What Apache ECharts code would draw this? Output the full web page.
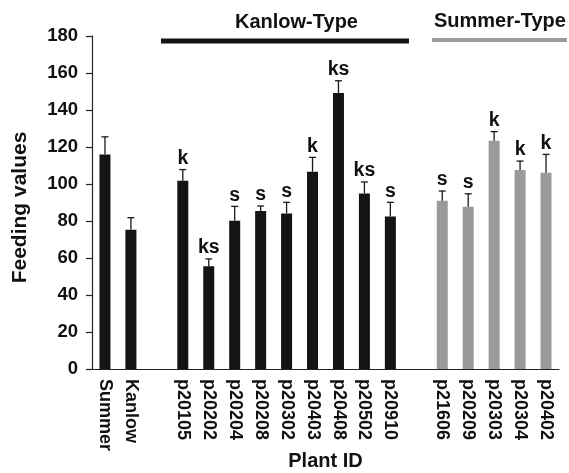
<!DOCTYPE html>
<html>
<head>
<meta charset="utf-8">
<script src="https://cdn.jsdelivr.net/npm/echarts@6/dist/echarts.min.js"></script>
<style>html,body{margin:0;padding:0;background:#fff}#c{width:569px;height:473px}</style>
</head>
<body>
<div id="c"></div>
<script>
// Categories ('' = empty gap slot)
var categories = ['Summer','Kanlow','','p20105','p20202','p20204','p20208','p20302','p20403','p20408','p20502','p20910','','p21606','p20209','p20303','p20304','p20402'];
// Mean feeding values
var values = [116, 75.3, null, 101.8, 55.5, 80.2, 85.4, 84.1, 106.6, 149.2, 94.9, 82.5, null, 91, 87.7, 123.4, 107.6, 106.1];
// Error (upper whisker length)
var errors = [9.5, 6.5, null, 6, 4, 7.7, 2.7, 6, 7.8, 6.6, 6.2, 7.6, null, 5.2, 7, 4.9, 4.8, 9.9];
// Significance letters
var letters = ['', '', '', 'k', 'ks', 's', 's', 's', 'k', 'ks', 'ks', 's', '', 's', 's', 'k', 'k', 'k'];
// Group: 0 = reference, 1 = Kanlow-type, 2 = Summer-type
var groups = [0, 0, -1, 1, 1, 1, 1, 1, 1, 1, 1, 1, -1, 2, 2, 2, 2, 2];
var yTicks = [0, 20, 40, 60, 80, 100, 120, 140, 160, 180];

var BLACK = '#141414', GRAY = '#9a9a9a';
var FONT = '"Liberation Sans", Arial, sans-serif';

var barData = values.map(function (v, i) {
  if (v == null) return '-';
  return { value: v, itemStyle: { color: groups[i] === 2 ? GRAY : BLACK } };
});
var errData = values.map(function (v, i) {
  return v == null ? [i, '-', '-'] : [i, v, v + errors[i]];
});

var chart = echarts.init(document.getElementById('c'), null, { renderer: 'canvas' });
chart.setOption({
  animation: false,
  backgroundColor: '#fff',
  grid: { left: 92, right: 10, top: 36, bottom: 104, containLabel: false, outerBoundsMode: 'none' },
  xAxis: {
    type: 'category',
    data: categories,
    axisLine: { show: true, lineStyle: { color: '#222', width: 1.2 } },
    axisTick: { show: false },
    axisLabel: { rotate: -90, margin: 10, color: '#111', fontWeight: 'bold', fontSize: 18, fontFamily: FONT, interval: 0 },
    name: 'Plant ID',
    nameLocation: 'middle',
    nameGap: 82,
    nameMoveOverlap: false,
    nameTextStyle: { color: '#111', fontWeight: 'bold', fontSize: 20, fontFamily: FONT }
  },
  yAxis: {
    type: 'value',
    min: 0, max: 180, interval: 20,
    axisLine: { show: true, lineStyle: { color: '#222', width: 1.2 } },
    axisTick: { show: true, length: 6, lineStyle: { color: '#222', width: 1.2 } },
    splitLine: { show: false },
    axisLabel: { margin: 14, color: '#111', fontWeight: 'bold', fontSize: 18.5, fontFamily: FONT,
      formatter: function (v) { return yTicks.indexOf(v) >= 0 ? String(v) : ''; } },
    name: 'Feeding values',
    nameLocation: 'middle',
    nameGap: 61,
    nameMoveOverlap: false,
    nameTextStyle: { color: '#111', fontWeight: 'bold', fontSize: 21, fontFamily: FONT, padding: [0, 10, 0, 0] }
  },
  series: [
    {
      type: 'bar',
      data: barData,
      barWidth: 11,
      z: 2
    },
    {
      type: 'custom',
      data: errData,
      z: 3,
      renderItem: function (params, api) {
        var i = api.value(0);
        if (values[i] == null) return null;
        var base = api.coord([i, api.value(1)]);
        var top = api.coord([i, api.value(2)]);
        var x = base[0];
        var style = { stroke: '#1a1a1a', lineWidth: 1.3 };
        var children = [
          { type: 'line', shape: { x1: x, y1: base[1], x2: x, y2: top[1] }, style: style },
          { type: 'line', shape: { x1: x - 3.5, y1: top[1], x2: x + 3.5, y2: top[1] }, style: style }
        ];
        if (letters[i]) {
          children.push({
            type: 'text',
            style: { text: letters[i], x: x, y: top[1] - 1, textAlign: 'center', textVerticalAlign: 'bottom',
              fill: '#111', font: 'bold 19.5px ' + FONT }
          });
        }
        return { type: 'group', children: children };
      }
    }
  ],
  graphic: [
    { type: 'text', left: 235, top: 12, style: { text: 'Kanlow-Type', fill: '#111', font: 'bold 20px ' + FONT } },
    { type: 'rect', shape: { x: 161, y: 38.5, width: 248, height: 5 }, style: { fill: BLACK } },
    { type: 'text', left: 434, top: 11, style: { text: 'Summer-Type', fill: '#111', font: 'bold 20px ' + FONT } },
    { type: 'rect', shape: { x: 432, y: 38, width: 135, height: 4 }, style: { fill: GRAY } }
  ]
});
</script>
</body>
</html>
